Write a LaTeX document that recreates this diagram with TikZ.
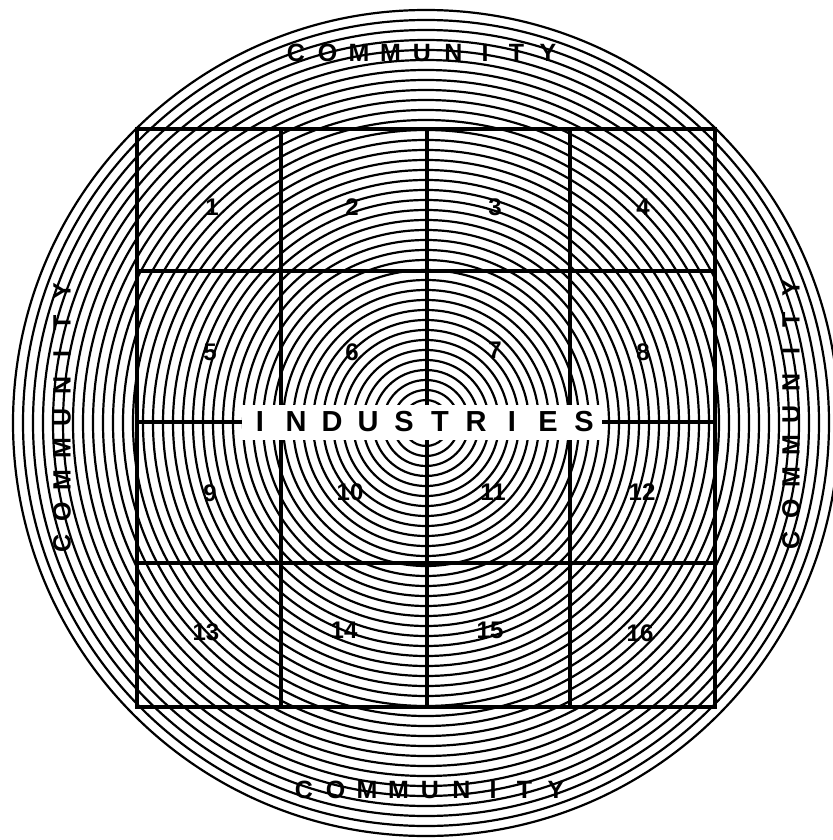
\documentclass[tikz,border=0pt]{standalone}
\usepackage{fontspec}
\setmainfont{Liberation Sans}
\newcommand\cl[1]{\makebox[31.5pt]{#1}}
\newcommand\il[1]{\makebox[36pt]{#1}}
\begin{document}
\begin{tikzpicture}[x=1pt,y=-1pt,
  ring/.style={line width=2.2pt,black},
  gridline/.style={line width=3.4pt,black,line cap=rect},
  numlabel/.style={font=\fontsize{24}{24}\selectfont\bfseries,inner sep=1pt},
  wordlabel/.style={font=\fontsize{25}{25}\selectfont\bfseries,inner sep=0pt},
  bandlabel/.style={font=\fontsize{29}{29}\selectfont\bfseries,fill=white,inner sep=0pt,
     minimum width=347pt,minimum height=35pt}]
\useasboundingbox (0,0) rectangle (832,840);
\coordinate (ctr) at (426,423);
\foreach \k in {0,...,40}{
  \draw[ring] (ctr) circle ({413-10*\k});
}
% grid
\coordinate (tl) at (137,129);
\coordinate (br) at (715,707);
\draw[gridline] (tl) rectangle (br);
\foreach \x in {281,427,570}{
  \draw[gridline] (\x,129) -- (\x,707);
}
\foreach \y in {271,422,563}{
  \draw[gridline] (137,\y) -- (715,\y);
}
% band
\node[bandlabel] (ind) at (422,422) {\il{I}\il{N}\il{D}\il{U}\il{S}\il{T}\il{R}\il{I}\il{E}\il{S}};
% numbers
\node[numlabel] (n1) at (212,207) {1};
\node[numlabel] (n2) at (352,207) {2};
\node[numlabel] (n3) at (495,207) {3};
\node[numlabel] (n4) at (643,207) {4};
\node[numlabel] (n5) at (210,352) {5};
\node[numlabel] (n6) at (352,352) {6};
\node[numlabel] (n7) at (495,350) {7};
\node[numlabel] (n8) at (643,352) {8};
\node[numlabel] (n9) at (210,493) {9};
\node[numlabel] (n10) at (350,492) {10};
\node[numlabel] (n11) at (493,492) {11};
\node[numlabel] (n12) at (642,492) {12};
\node[numlabel] (n13) at (206,632) {13};
\node[numlabel] (n14) at (344,630) {14};
\node[numlabel] (n15) at (490,630) {15};
\node[numlabel] (n16) at (640,633) {16};
% community labels
\node[wordlabel] (ctop) at (422,53) {\cl{C}\cl{O}\cl{M}\cl{M}\cl{U}\cl{N}\cl{I}\cl{T}\cl{Y}};
\node[wordlabel] (cbot) at (430,790) {\cl{C}\cl{O}\cl{M}\cl{M}\cl{U}\cl{N}\cl{I}\cl{T}\cl{Y}};
\node[wordlabel,rotate=90] (cleft) at (62,417) {\cl{C}\cl{O}\cl{M}\cl{M}\cl{U}\cl{N}\cl{I}\cl{T}\cl{Y}};
\node[wordlabel,rotate=90] (cright) at (791,414) {\cl{C}\cl{O}\cl{M}\cl{M}\cl{U}\cl{N}\cl{I}\cl{T}\cl{Y}};
\end{tikzpicture}
\end{document}
